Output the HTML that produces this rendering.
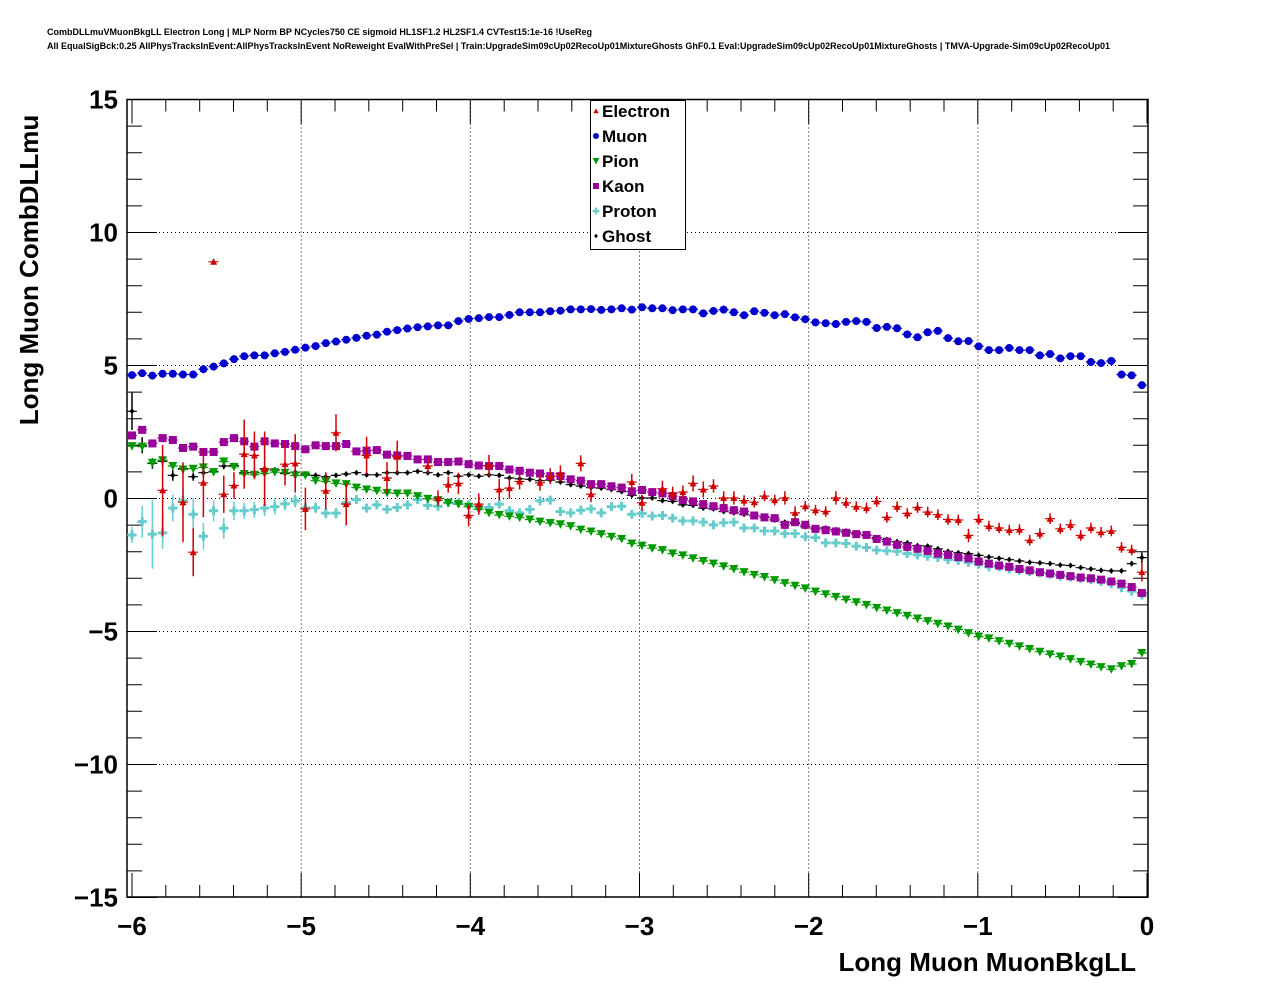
<!DOCTYPE html>
<html><head><meta charset="utf-8"><style>
body{margin:0;background:#fff;}
svg{display:block;font-family:"Liberation Sans",Arial,sans-serif;}
</style></head><body>
<svg id="chart" width="1276" height="996" viewBox="0 0 1276 996" xmlns="http://www.w3.org/2000/svg">
<rect x="0" y="0" width="1276" height="996" fill="#fff"/>
<text x="47" y="35" font-size="9" font-weight="bold" textLength="545" lengthAdjust="spacingAndGlyphs">CombDLLmuVMuonBkgLL Electron Long | MLP Norm BP NCycles750 CE sigmoid HL1SF1.2 HL2SF1.4 CVTest15:1e-16 !UseReg</text>
<text x="47" y="49" font-size="9" font-weight="bold" textLength="1063" lengthAdjust="spacingAndGlyphs">All EqualSigBck:0.25 AllPhysTracksInEvent:AllPhysTracksInEvent NoReweight EvalWithPreSel | Train:UpgradeSim09cUp02RecoUp01MixtureGhosts GhF0.1 Eval:UpgradeSim09cUp02RecoUp01MixtureGhosts | TMVA-Upgrade-Sim09cUp02RecoUp01</text>
<g id="grid"></g>
<g id="axes"></g>
<g id="series"></g>
<text x="38" y="270" font-size="26" font-weight="bold" text-anchor="middle" transform="rotate(-90 38 270)">Long Muon CombDLLmu</text>
<text x="1136" y="971" font-size="26" font-weight="bold" text-anchor="end">Long Muon MuonBkgLL</text>
<g id="legend">
<rect x="590.5" y="100.5" width="95" height="149" fill="#fff" stroke="#000" stroke-width="1"/>
</g>
</svg>
<script>
const xTicks=[-6,-5,-4,-3,-2,-1,0];
const xTickLabels=["\u22126","\u22125","\u22124","\u22123","\u22122","\u22121","0"];
const yTicks=[-15,-10,-5,0,5,10,15];
const yTickLabels=["\u221215","\u221210","\u22125","0","5","10","15"];
const binStart=-6, binWidth=0.0603, nBins=100;
const seriesNames=["Electron","Muon","Pion","Kaon","Proton","Ghost"];
const muon=[4.64,4.71,4.62,4.69,4.69,4.66,4.66,4.86,4.96,5.08,5.24,5.35,5.38,5.38,5.46,5.51,5.59,5.67,5.73,5.84,5.90,5.97,6.04,6.12,6.16,6.27,6.33,6.39,6.44,6.47,6.51,6.51,6.67,6.75,6.78,6.82,6.82,6.90,7.00,7.00,7.00,7.04,7.06,7.11,7.11,7.12,7.09,7.11,7.15,
7.10,7.19,7.15,7.15,7.08,7.11,7.11,6.96,7.05,7.10,7.00,6.89,7.04,6.98,6.89,6.93,6.81,6.74,6.62,6.59,6.56,6.64,6.67,6.64,6.41,6.45,6.40,6.17,6.06,6.25,6.30,6.03,5.91,5.92,5.72,5.58,5.58,5.66,5.58,5.58,5.38,5.43,5.27,5.35,5.35,5.13,5.09,5.17,4.66,4.63,4.26];
const pion=[1.97,1.95,1.34,1.44,1.22,1.09,1.12,1.17,0.99,1.39,1.19,0.92,0.89,0.94,0.99,0.97,0.87,0.87,0.67,0.64,0.57,0.54,0.41,0.34,0.29,0.21,0.19,0.19,0.09,-0.01,-0.06,-0.16,-0.21,-0.31,-0.41,-0.54,-0.62,-0.67,-0.72,-0.79,-0.87,-0.92,-0.97,-1.04,-1.17,-1.24,-1.34,-1.44,-1.52,
-1.69,-1.77,-1.87,-1.94,-2.07,-2.14,-2.25,-2.35,-2.45,-2.55,-2.65,-2.77,-2.87,-2.95,-3.07,-3.18,-3.28,-3.38,-3.50,-3.60,-3.70,-3.80,-3.90,-4.00,-4.11,-4.21,-4.31,-4.41,-4.51,-4.61,-4.71,-4.81,-4.93,-5.06,-5.19,-5.26,-5.36,-5.46,-5.56,-5.66,-5.76,-5.86,-5.94,-6.04,-6.14,-6.24,-6.34,-6.42,-6.30,-6.22,-5.81];
const kaon=[2.37,2.58,2.07,2.27,2.20,1.90,1.95,1.75,1.75,2.12,2.27,2.15,1.95,2.15,2.07,2.05,1.97,1.85,2.00,1.97,1.97,2.05,1.77,1.80,1.82,1.65,1.62,1.60,1.47,1.47,1.37,1.37,1.39,1.29,1.24,1.22,1.22,1.09,1.04,0.97,0.94,0.84,0.84,0.72,0.67,0.54,0.54,0.46,0.41,
0.27,0.32,0.24,0.19,0.09,-0.06,-0.11,-0.21,-0.29,-0.36,-0.44,-0.49,-0.64,-0.71,-0.74,-0.99,-0.89,-0.99,-1.14,-1.19,-1.24,-1.29,-1.34,-1.37,-1.52,-1.62,-1.74,-1.82,-1.89,-1.97,-2.07,-2.12,-2.20,-2.25,-2.37,-2.45,-2.52,-2.57,-2.65,-2.70,-2.77,-2.82,-2.87,-2.92,-2.97,-3.00,-3.05,-3.12,-3.20,-3.33,-3.55];
const proton=[-1.37,-0.87,-1.34,-1.29,-0.36,-0.09,-0.59,-1.42,-0.46,-1.12,-0.46,-0.46,-0.42,-0.36,-0.31,-0.20,-0.09,-0.35,-0.35,-0.55,-0.55,-0.16,-0.04,-0.36,-0.24,-0.41,-0.34,-0.24,-0.04,-0.26,-0.29,-0.16,-0.16,-0.24,-0.31,-0.34,-0.21,-0.46,-0.54,-0.41,-0.09,-0.06,-0.49,-0.54,-0.44,-0.39,-0.54,-0.31,-0.29,
-0.59,-0.56,-0.66,-0.64,-0.74,-0.84,-0.84,-0.89,-0.99,-0.91,-0.89,-1.11,-1.11,-1.22,-1.22,-1.32,-1.32,-1.44,-1.47,-1.67,-1.67,-1.69,-1.79,-1.84,-1.94,-1.97,-1.99,-2.07,-2.12,-2.17,-2.22,-2.30,-2.32,-2.40,-2.47,-2.57,-2.57,-2.65,-2.70,-2.75,-2.80,-2.85,-2.92,-2.95,-3.00,-3.05,-3.12,-3.20,-3.35,-3.48,-3.63];
const protonErr=[0.3,0.6,1.3,0.6,0.5,0.5,0.6,0.5,0.4,0.4,0.35,0.3,0.3,0.3,0.3,0.25,0.25,0.2,0.2,0.2,0.2,0.15,0.15,0.15,0.15,0.12,0.12,0.12,0.12,0.1,0.1,0.1,0.1,0.1,0.1,0.1,0.1,0.1,0.1,0.1,0.1,0.1,0.1,0.1,0.1,0.1,0.1,0.1,0.1,
0.08,0.08,0.08,0.08,0.08,0.08,0.08,0.08,0.08,0.08,0.08,0.08,0.08,0.08,0.08,0.08,0.08,0.08,0.08,0.08,0.08,0.08,0.08,0.08,0.08,0.08,0.08,0.08,0.08,0.08,0.08,0.08,0.08,0.08,0.08,0.08,0.08,0.08,0.08,0.08,0.08,0.08,0.08,0.08,0.08,0.08,0.08,0.08,0.08,0.08,0.1];
const ghost=[3.28,2.0,1.32,1.40,0.87,1.12,0.82,0.97,1.02,1.22,1.24,0.97,0.97,1.12,1.07,0.94,0.99,0.92,0.87,0.82,0.87,0.92,0.97,0.89,0.89,0.97,0.97,0.97,1.02,0.97,0.89,0.97,0.84,0.89,0.84,0.89,0.87,0.77,0.74,0.72,0.67,0.69,0.62,0.52,0.47,0.41,0.39,0.34,0.26,
0.12,0.02,0.02,-0.08,-0.11,-0.24,-0.26,-0.36,-0.39,-0.49,-0.54,-0.59,-0.64,-0.69,-0.81,-0.89,-0.94,-1.06,-1.11,-1.11,-1.17,-1.22,-1.29,-1.39,-1.47,-1.54,-1.62,-1.67,-1.77,-1.79,-1.89,-1.99,-2.04,-2.07,-2.14,-2.20,-2.25,-2.30,-2.35,-2.40,-2.42,-2.45,-2.50,-2.52,-2.60,-2.65,-2.70,-2.72,-2.72,-2.45,-2.22];
const ghostErr=[0.7,0.3,0.2,0.2,0.2,0.15,0.15,0.15,0.12,0.12,0.1,0.1,0.1,0.1,0.1,0.1,0.1,0.1,0.1,0.1,0.08,0.08,0.08,0.08,0.08,0.08,0.08,0.08,0.08,0.08,0.08,0.08,0.08,0.08,0.08,0.08,0.08,0.08,0.08,0.08,0.08,0.08,0.08,0.08,0.08,0.08,0.08,0.08,0.08,
0.06,0.06,0.06,0.06,0.06,0.06,0.06,0.06,0.06,0.06,0.06,0.06,0.06,0.06,0.06,0.06,0.06,0.06,0.06,0.06,0.06,0.06,0.06,0.06,0.06,0.06,0.06,0.06,0.06,0.06,0.06,0.06,0.06,0.06,0.06,0.06,0.06,0.06,0.06,0.06,0.06,0.06,0.06,0.06,0.06,0.06,0.06,0.06,0.06,0.1,0.2];
const electron=[null,null,null,0.31,null,-0.14,-2.02,0.59,8.9,0.16,0.49,1.67,1.62,1.12,null,1.29,1.32,-0.39,null,0.29,2.47,-0.21,null,1.62,null,0.77,1.57,null,null,1.22,0.01,0.52,0.57,-0.64,-0.21,1.24,0.34,0.39,0.64,null,0.59,0.84,0.94,null,1.32,0.16,null,null,null,
0.62,-0.16,null,0.37,0.19,0.24,0.57,0.34,0.47,0.02,0.02,-0.08,-0.14,0.09,-0.06,0.02,-0.54,-0.29,-0.44,-0.49,0.02,-0.16,-0.31,-0.36,-0.11,-0.71,-0.31,-0.56,-0.34,-0.51,-0.61,-0.79,-0.81,-1.39,-0.79,-1.04,-1.11,-1.19,-1.17,-1.57,-1.32,-0.76,-1.14,-0.99,-1.39,-1.11,-1.27,-1.22,-1.84,-1.94,-2.77];
const electronErr=[0,0,0,1.7,0,1.5,0.9,1.3,0.1,0.7,0.5,1.3,0.9,1.4,0,0.8,1.1,0.8,0,0.7,0.7,0.8,0,0.7,0,0.6,0.6,0,0,0.3,0.3,0.3,0.4,0.4,0.4,0.4,0.4,0.4,0.3,0,0.3,0.3,0.3,0,0.3,0.3,0,0,0,
0.3,0.3,0,0.3,0.25,0.25,0.3,0.3,0.25,0.25,0.25,0.2,0.2,0.2,0.2,0.25,0.25,0.2,0.2,0.2,0.25,0.2,0.2,0.2,0.2,0.2,0.2,0.2,0.2,0.2,0.2,0.2,0.2,0.25,0.2,0.2,0.2,0.2,0.2,0.2,0.2,0.2,0.2,0.2,0.2,0.2,0.2,0.2,0.2,0.2,0.35];

const NS="http://www.w3.org/2000/svg";
const X0=132, XS=169.17, Y0=498.5, YS=26.6;
const L=127, R=1148, T=99.5, B=897;
function xs(v){return X0+(v+6)*XS;}
function ys(v){return Y0-YS*v;}
function mk(tag,attrs,parent){const e=document.createElementNS(NS,tag);for(const k in attrs)e.setAttribute(k,attrs[k]);parent.appendChild(e);return e;}
const grid=document.getElementById('grid'), axes=document.getElementById('axes'), ser=document.getElementById('series'), leg=document.getElementById('legend');

xTicks.forEach((t,i)=>{
  if(t>-6&&t<0){const g=mk('line',{x1:xs(t),x2:xs(t),y1:T,y2:B,stroke:'#000','stroke-width':1,'stroke-dasharray':'1,3'},grid);
  
  }
  const lb=mk('text',{x:xs(t),y:935,'font-size':26,'font-weight':'bold','text-anchor':'middle'},axes);
  lb.textContent=xTickLabels[i];
  
  
});
yTicks.forEach((t,i)=>{
  if(t>-15&&t<15){const g=mk('line',{x1:L,x2:R,y1:ys(t),y2:ys(t),stroke:'#000','stroke-width':1,'stroke-dasharray':'1,3'},grid);
  
  }
  const lb=mk('text',{x:118,y:ys(t)+9,'font-size':26,'font-weight':'bold','text-anchor':'end'},axes);
  lb.textContent=yTickLabels[i];
  
  
});
let tp='';
for(let k=0;k<=30;k++){const v=-6+k*0.2;const x=xs(v).toFixed(1);const len=(k%5===0)?24:12;
  tp+=`M${x} ${B}V${B-len}M${x} ${T}V${T+len}`;}
for(let v=-15;v<=15;v++){const y=ys(v).toFixed(1);const len=(v%5===0)?30:15;
  tp+=`M${L} ${y}H${L+len}M${R} ${y}H${R-len}`;}
const tk=mk('path',{d:tp,stroke:'#000','stroke-width':1,fill:'none'},axes);


const fr=mk('rect',{x:L,y:T,width:R-L,height:B-T,fill:'none',stroke:'#000','stroke-width':1.5},axes);



function marker(type,cx,cy,color,parent,s){
  let e;
  if(type==='circle') e=mk('circle',{cx:cx,cy:cy,r:4*s,fill:color},parent);
  else if(type==='square') e=mk('rect',{x:cx-4*s,y:cy-4*s,width:8*s,height:8*s,fill:color},parent);
  else if(type==='tdown') e=mk('polygon',{points:`${cx-4.5*s},${cy-4*s} ${cx+4.5*s},${cy-4*s} ${cx},${cy+4.5*s}`,fill:color},parent);
  else if(type==='tup') e=mk('polygon',{points:`${cx-3.5*s},${cy+3*s} ${cx+3.5*s},${cy+3*s} ${cx},${cy-3.5*s}`,fill:color},parent);
  else if(type==='cross') e=mk('path',{d:`M${cx-4.5*s} ${cy-1.5*s}h${3*s}v${-3*s}h${3*s}v${3*s}h${3*s}v${3*s}h${-3*s}v${3*s}h${-3*s}v${-3*s}h${-3*s}z`,fill:color},parent);
  else e=mk('polygon',{points:`${cx},${cy-3*s} ${cx+2.5*s},${cy} ${cx},${cy+3*s} ${cx-2.5*s},${cy}`,fill:color},parent);
  return e;
}
const defs=[
 {name:'ghost',vals:ghost,err:ghostErr,color:'#000000',m:'diamond'},
 {name:'proton',vals:proton,err:protonErr,color:'#66cccc',m:'cross'},
 {name:'kaon',vals:kaon,err:null,color:'#990099',m:'square'},
 {name:'pion',vals:pion,err:null,color:'#009a00',m:'tdown'},
 {name:'muon',vals:muon,err:null,color:'#0000cc',m:'circle'},
 {name:'electron',vals:electron,err:electronErr,color:'#d00000',m:'tup'}
];
defs.forEach(d=>{
  const g=mk('g',{},ser);
  
  
  let dp='', ep='';
  d.vals.forEach((v,i)=>{
    if(v===null||v===undefined) return;
    const c=binStart+i*binWidth;
    const x=xs(c), y=ys(v);
    dp+=`M${xs(c-binWidth/2).toFixed(1)} ${y.toFixed(1)}H${xs(c+binWidth/2).toFixed(1)}`;
    if(d.err&&d.err[i]>0) ep+=`M${x.toFixed(1)} ${ys(v+d.err[i]).toFixed(1)}V${ys(v-d.err[i]).toFixed(1)}`;
  });
  const hl=mk('path',{d:dp,stroke:d.color,'stroke-width':1.2,'stroke-dasharray':'4,2',fill:'none'},g);
  
  
  const el=mk('path',{d:ep,stroke:d.color,'stroke-width':1.5,fill:'none'},g);
  
  
  d.vals.forEach((v,i)=>{
    if(v===null||v===undefined) return;
    const c=binStart+i*binWidth;
    const p=marker(d.m,xs(c),ys(v),d.color,g,1);
    
    
  });
});
const legMark={Electron:['tup','#d00000'],Muon:['circle','#0000cc'],Pion:['tdown','#009a00'],Kaon:['square','#990099'],Proton:['cross','#66cccc'],Ghost:['diamond','#000000']};
seriesNames.forEach((n,i)=>{
  const y=111+i*25;
  const g=mk('g',{},leg);
  
  
  marker(legMark[n][0],596,y,legMark[n][1],g,0.75);
  const t=mk('text',{x:602,y:y+6,'font-size':17,'font-weight':'bold'},g);
  t.textContent=n;
});
</script>
</body></html>
